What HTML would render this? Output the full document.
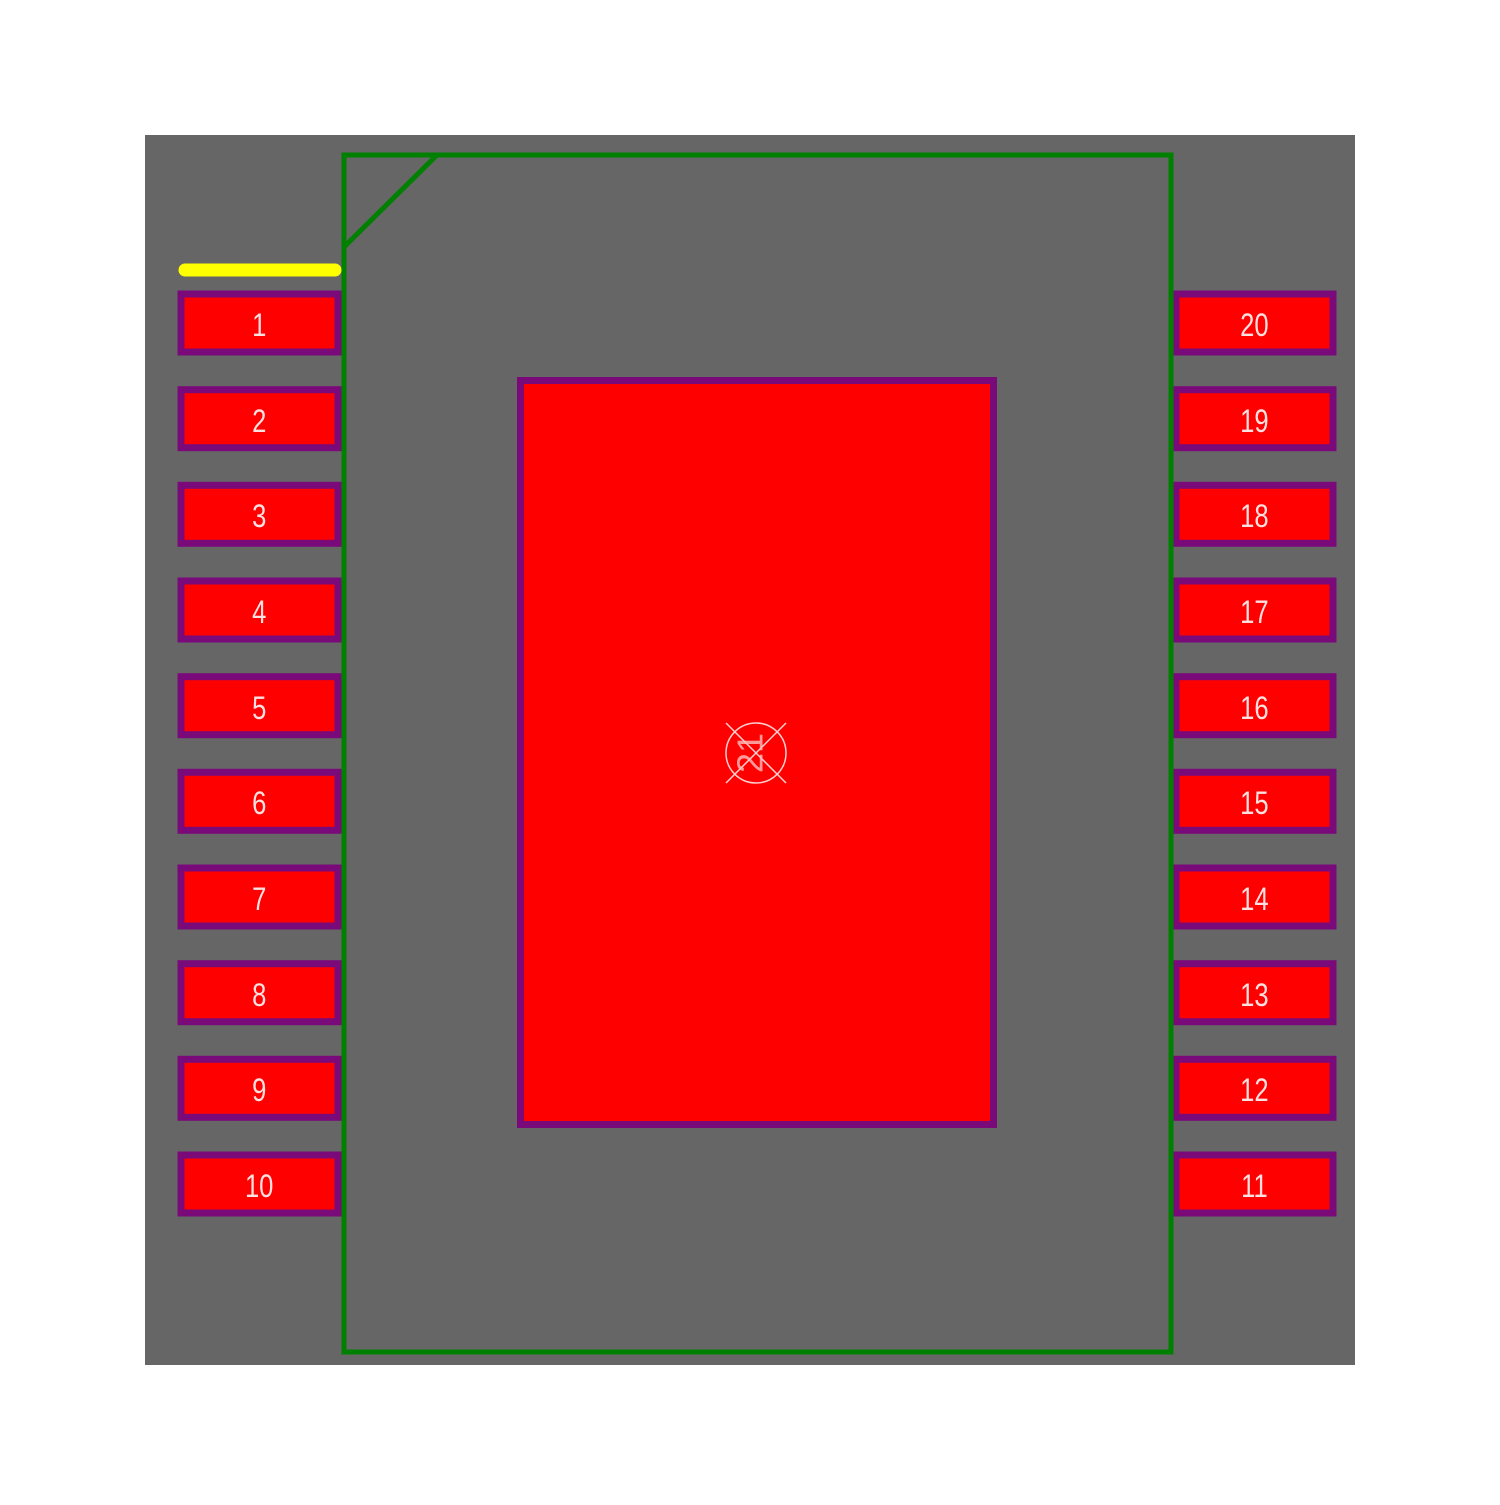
<!DOCTYPE html>
<html><head><style>
body{margin:0;background:#fff;}
</style></head><body>
<svg width="1500" height="1500" viewBox="0 0 1500 1500" xmlns="http://www.w3.org/2000/svg">
<rect x="0" y="0" width="1500" height="1500" fill="#fff"/>
<rect x="145" y="135" width="1210" height="1230" fill="#666666"/>
<g id="pads">
<g fill="#ff0000" stroke="#7a0a7a" stroke-width="7">
<rect x="181" y="294" width="157" height="58"/>
<rect x="181" y="389.7" width="157" height="58"/>
<rect x="181" y="485.3" width="157" height="58"/>
<rect x="181" y="581" width="157" height="58"/>
<rect x="181" y="676.7" width="157" height="58"/>
<rect x="181" y="772.3" width="157" height="58"/>
<rect x="181" y="868" width="157" height="58"/>
<rect x="181" y="963.7" width="157" height="58"/>
<rect x="181" y="1059.3" width="157" height="58"/>
<rect x="181" y="1155" width="157" height="58"/>
<rect x="1176" y="294" width="157" height="58"/>
<rect x="1176" y="389.7" width="157" height="58"/>
<rect x="1176" y="485.3" width="157" height="58"/>
<rect x="1176" y="581" width="157" height="58"/>
<rect x="1176" y="676.7" width="157" height="58"/>
<rect x="1176" y="772.3" width="157" height="58"/>
<rect x="1176" y="868" width="157" height="58"/>
<rect x="1176" y="963.7" width="157" height="58"/>
<rect x="1176" y="1059.3" width="157" height="58"/>
<rect x="1176" y="1155" width="157" height="58"/>
<rect x="520.5" y="380.5" width="473" height="744"/>
</g>
<g fill="#ffe0e0" font-family="Liberation Sans, sans-serif" font-size="32" text-anchor="middle">
<g transform="scale(0.8,1)">
<text x="324" y="336">1</text>
<text x="324" y="432">2</text>
<text x="324" y="527">3</text>
<text x="324" y="623">4</text>
<text x="324" y="719">5</text>
<text x="324" y="814">6</text>
<text x="324" y="910">7</text>
<text x="324" y="1006">8</text>
<text x="324" y="1101">9</text>
<text x="324" y="1197">10</text>
<text x="1568" y="336">20</text>
<text x="1568" y="432">19</text>
<text x="1568" y="527">18</text>
<text x="1568" y="623">17</text>
<text x="1568" y="719">16</text>
<text x="1568" y="814">15</text>
<text x="1568" y="910">14</text>
<text x="1568" y="1006">13</text>
<text x="1568" y="1101">12</text>
<text x="1568" y="1197">11</text>
</g>
</g>
</g>
<path d="M344 247 L344 1352 L1171 1352 L1171 155 L437 155 Z M344 247 L344 155 L437 155" fill="none" stroke="#008000" stroke-width="5"/>
<line x1="185" y1="270" x2="335" y2="270" stroke="#ffff00" stroke-width="13" stroke-linecap="round"/>
<g stroke="#ffd0d0" stroke-width="1.5" fill="none">
<circle cx="756" cy="753" r="30"/>
<line x1="726" y1="723" x2="786" y2="783"/>
<line x1="786" y1="723" x2="726" y2="783"/>
</g>
<text x="0" y="0" transform="translate(750,753) rotate(-90)" fill="#ffc0c0" font-family="Liberation Sans, sans-serif" font-size="36" text-anchor="middle" dominant-baseline="central" opacity="0.8">21</text>
</svg>
</body></html>
